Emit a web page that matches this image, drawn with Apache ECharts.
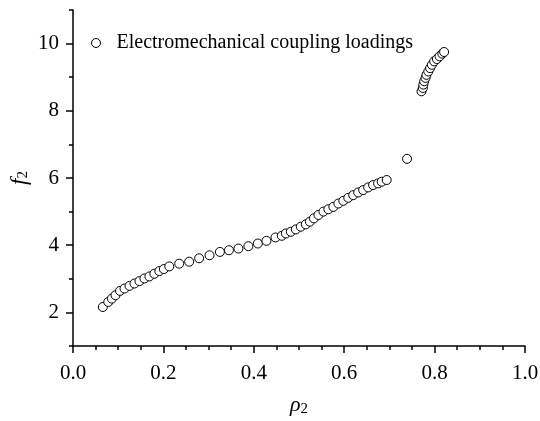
<!DOCTYPE html>
<html><head><meta charset="utf-8">
<script src="https://cdn.jsdelivr.net/npm/echarts@6/dist/echarts.min.js"></script>
<style>html,body{margin:0;padding:0;background:#fff}#c{width:540px;height:421px}</style>
</head><body><div id="c"></div>
<script>
const rho2 = [0.066,0.078,0.086,0.094,0.104,0.114,0.125,0.136,0.147,0.158,0.169,0.180,0.191,0.201,0.213,0.235,0.257,0.279,0.302,0.325,0.345,0.366,0.388,0.409,0.428,0.448,0.462,0.471,0.482,0.493,0.504,0.515,0.524,0.533,0.543,0.554,0.565,0.576,0.587,0.598,0.609,0.620,0.631,0.642,0.653,0.664,0.675,0.683,0.694,0.739,
  0.771,0.774,0.775,0.777,0.780,0.782,0.786,0.790,0.794,0.799,0.805,0.811,0.817,0.821];
const f2 = [2.16,2.31,2.41,2.51,2.64,2.71,2.79,2.86,2.93,3.01,3.07,3.15,3.23,3.29,3.37,3.45,3.51,3.61,3.70,3.80,3.85,3.90,3.97,4.05,4.13,4.23,4.28,4.35,4.40,4.47,4.55,4.62,4.70,4.80,4.90,5.00,5.07,5.14,5.24,5.32,5.41,5.49,5.57,5.64,5.72,5.79,5.84,5.89,5.94,6.57,
  8.58,8.68,8.78,8.88,8.98,9.07,9.17,9.27,9.37,9.47,9.54,9.62,9.70,9.75];
const seriesName = 'Electromechanical coupling loadings';
const yMajor = [2,4,6,8,10];
const yMinor = [1,3,5,7,9,11];

const FONT = 'Liberation Serif';
const chart = echarts.init(document.getElementById('c'));
const lineStyle = {color:'#000', width:1.5};
chart.setOption({
  animation:false,
  grid:{left:73,right:15,top:10,bottom:75, containLabel:false, outerBoundsMode:'none'},
  legend:{
    left:91, top:33, padding:0,
    itemWidth:31, itemHeight:9,
    itemStyle:{borderWidth:1, borderColor:'#000', color:'#fff'},
    textStyle:{fontFamily:FONT, fontSize:20, color:'#000'},
    data:[seriesName]
  },
  xAxis:{
    type:'value', min:0, max:1, interval:0.2,
    axisLine:{lineStyle}, splitLine:{show:false},
    axisTick:{show:true, length:7, lineStyle},
    minorTick:{show:true, splitNumber:4, length:4, lineStyle},
    axisLabel:{fontFamily:FONT, fontSize:21, color:'#000', margin:17,
      formatter:v=>v.toFixed(1)},
    name:'{i|ρ}{s|2}', nameLocation:'middle', nameGap:48, nameMoveOverlap:false,
    nameTextStyle:{rich:{i:{fontFamily:FONT, fontStyle:'italic', fontSize:22, color:'#000'},
      s:{fontFamily:FONT, fontSize:15, color:'#000', verticalAlign:'bottom', padding:[8,0,0,0]}}}
  },
  yAxis:[{
    type:'value', min:1, max:11,
    axisLine:{show:true, lineStyle}, splitLine:{show:false},
    axisTick:{show:true, length:7, lineStyle, customValues:yMajor},
    axisLabel:{fontFamily:FONT, fontSize:21, color:'#000', margin:14, customValues:yMajor},
    name:'{i|f}{s|2}', nameLocation:'middle', nameGap:42, nameRotate:90, nameMoveOverlap:false,
    nameTextStyle:{rich:{i:{fontFamily:FONT, fontStyle:'italic', fontSize:23, color:'#000'},
      s:{fontFamily:FONT, fontSize:15, color:'#000', verticalAlign:'bottom', padding:[8,0,0,0]}}}
  },{
    type:'value', min:1, max:11, position:'left',
    axisLine:{show:false}, splitLine:{show:false},
    axisTick:{show:true, length:4, lineStyle, customValues:yMinor},
    axisLabel:{show:false}
  }],
  series:[{
    name:seriesName, type:'scatter', symbol:'circle', symbolSize:9,
    itemStyle:{color:'#fff', borderColor:'#000', borderWidth:1, opacity:1},
    data:rho2.map((x,i)=>[x,f2[i]])
  }]
});
</script></body></html>
